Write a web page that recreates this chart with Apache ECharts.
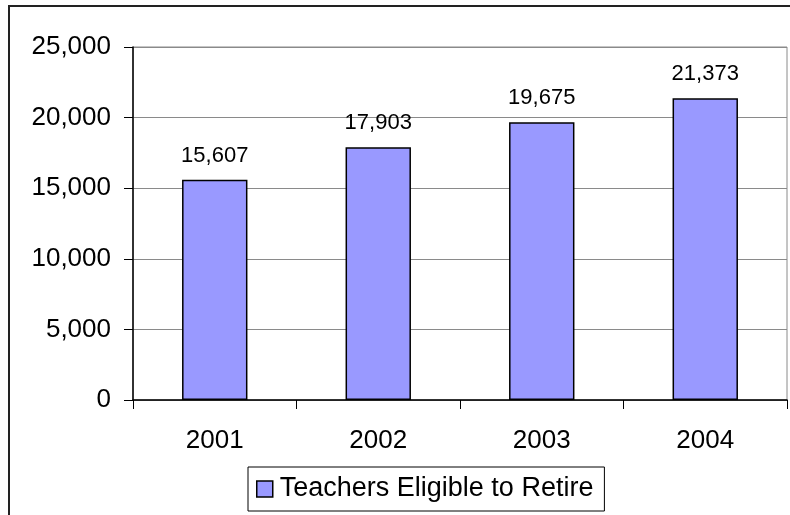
<!DOCTYPE html>
<html>
<head>
<meta charset="utf-8">
<style>
  html, body { margin: 0; padding: 0; background: #fff; }
  #chart { width: 790px; height: 515px; }
</style>
<script src="https://cdn.jsdelivr.net/npm/echarts@6/dist/echarts.min.js"></script>
</head>
<body>
<div id="chart"></div>
<script>
// Teachers eligible to retire, by year
const years = ['2001', '2002', '2003', '2004'];
const eligible = [15607, 17903, 19675, 21373];
const seriesName = 'Teachers Eligible to Retire';

const FONT = '"Liberation Sans", Arial, sans-serif';
const fmt = v => v.toLocaleString('en-US');

const chart = echarts.init(document.getElementById('chart'), null, { renderer: 'canvas' });

chart.setOption({
  backgroundColor: '#ffffff',
  animation: false,
  textStyle: { fontFamily: FONT, color: '#000' },
  graphic: [{
    type: 'rect',
    z: 100,
    silent: true,
    shape: { x: 9, y: 6, width: 820, height: 600 },
    style: { fill: 'none', stroke: '#222', lineWidth: 2 }
  }],
  grid: {
    left: 133, right: 3, top: 47, bottom: 115,
    show: true,
    borderColor: '#8a8a8a',
    borderWidth: 1,
    backgroundColor: '#fff'
  },
  legend: {
    data: [seriesName],
    left: 248,
    top: 467,
    icon: 'rect',
    itemWidth: 16,
    itemHeight: 16,
    itemGap: 0,
    padding: [0, 11, 0, 8],
    borderColor: '#000',
    borderWidth: 1,
    itemStyle: { borderColor: '#000', borderWidth: 1.5 },
    textStyle: {
      fontFamily: FONT, fontSize: 27, color: '#000',
      lineHeight: 26, padding: [9, 0, 9, 2]
    }
  },
  xAxis: {
    type: 'category',
    data: years,
    axisLine: { lineStyle: { color: '#000', width: 1.5 } },
    axisTick: { show: true, length: 9, alignWithLabel: false, lineStyle: { color: '#000' } },
    axisLabel: { fontFamily: FONT, fontSize: 26, color: '#000', margin: 28 },
    splitLine: { show: false }
  },
  yAxis: {
    type: 'value',
    min: 0,
    max: 25000,
    interval: 5000,
    axisLine: { show: true, lineStyle: { color: '#000', width: 1.5 } },
    axisTick: { show: true, length: 9, lineStyle: { color: '#000' } },
    axisLabel: {
      fontFamily: FONT, fontSize: 26, color: '#000', margin: 22,
      formatter: v => fmt(v)
    },
    splitLine: { show: true, lineStyle: { color: '#8a8a8a', width: 1 } }
  },
  series: [{
    name: seriesName,
    type: 'bar',
    data: eligible,
    barWidth: '40%',
    itemStyle: { color: '#9999ff', borderColor: '#000', borderWidth: 1.5 },
    label: {
      show: true,
      position: 'top',
      distance: 13,
      fontFamily: FONT,
      fontSize: 22,
      color: '#000',
      formatter: p => fmt(p.value)
    }
  }]
});
</script>
</body>
</html>
